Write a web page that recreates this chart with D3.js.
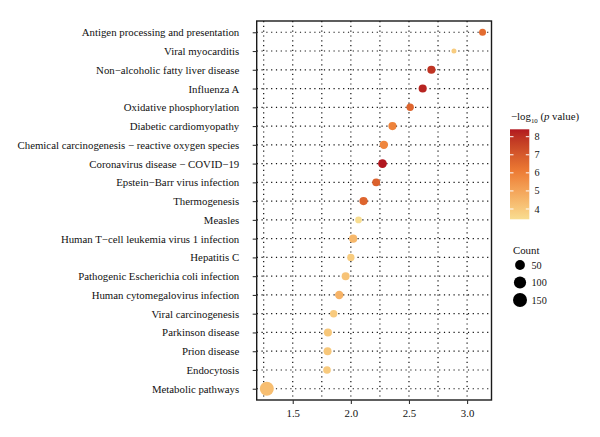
<!DOCTYPE html>
<html>
<head>
<meta charset="utf-8">
<script src="https://cdn.jsdelivr.net/npm/d3@7"></script>
<style>
  html, body { margin: 0; padding: 0; background: #fff; }
  svg { display: block; }
  text { font-family: "Liberation Serif", "DejaVu Serif", serif; fill: #111; }
</style>
</head>
<body>
<svg id="chart" width="600" height="437"></svg>
<script>
// ---------- data ----------
const pathways = [
  "Antigen processing and presentation",
  "Viral myocarditis",
  "Non\u2212alcoholic fatty liver disease",
  "Influenza A",
  "Oxidative phosphorylation",
  "Diabetic cardiomyopathy",
  "Chemical carcinogenesis \u2212 reactive oxygen species",
  "Coronavirus disease \u2212 COVID\u221219",
  "Epstein\u2212Barr virus infection",
  "Thermogenesis",
  "Measles",
  "Human T\u2212cell leukemia virus 1 infection",
  "Hepatitis C",
  "Pathogenic Escherichia coli infection",
  "Human cytomegalovirus infection",
  "Viral carcinogenesis",
  "Parkinson disease",
  "Prion disease",
  "Endocytosis",
  "Metabolic pathways"
];
const xValues = [3.133, 2.887, 2.693, 2.618, 2.510, 2.358, 2.284, 2.272, 2.218, 2.109,
                 2.066, 2.020, 2.000, 1.955, 1.900, 1.852, 1.803, 1.800, 1.795, 1.277];
const negLogP = [6.5, 3.9, 7.9, 8.2, 6.7, 5.9, 5.8, 8.41, 6.8, 6.7,
                 3.43, 4.5, 3.9, 4.15, 4.6, 3.95, 4.05, 4.05, 3.95, 4.3];
const counts  = [17, 10, 27, 27, 20, 27, 30, 35, 25, 28,
                 15, 27, 20, 25, 30, 20, 26, 25, 22, 150];
const xTicks = [1.5, 2.0, 2.5, 3.0];
const xGrid = [1.25, 1.5, 1.75, 2.0, 2.25, 2.5, 2.75, 3.0];
const colorTicks = [4, 5, 6, 7, 8];
const sizeBreaks = [50, 100, 150];

const data = pathways.map((p, i) => ({ name: p, x: xValues[i], p: negLogP[i], n: counts[i] }));

// ---------- layout ----------
const svg = d3.select("#chart");
const P = { left: 256.7, right: 491.5, top: 21, bottom: 400 };

const x = d3.scaleLinear().domain([1.19, 3.21]).range([P.left, P.right]);
const y = d3.scalePoint().domain(pathways).range([P.top, P.bottom]).padding(0.6);

const pExt = d3.extent(negLogP);
const color = d3.scaleLinear()
  .domain([pExt[0], (pExt[0] + pExt[1]) / 2 + 0.2, pExt[1]])
  .range(["#f8dd90", "#ec7a33", "#b2171f"])
  .interpolate(d3.interpolateLab);

const nExt = d3.extent(counts);
const sizeT = d3.scaleLinear().domain(nExt).range([0, 1]).clamp(true);
const rLin = d3.scaleLinear().domain([0, 1]).range([2.5, 7]);
const radius = n => rLin(Math.sqrt(sizeT(n)));

// ---------- grid ----------
const grid = svg.append("g");
grid.selectAll("line.v").data(xGrid).join("line")
  .attr("x1", d => x(d)).attr("x2", d => x(d))
  .attr("y1", P.top).attr("y2", P.bottom)
  .attr("stroke", "#111").attr("stroke-width", 1.2)
  .attr("stroke-dasharray", "1.2 3.6");
grid.selectAll("line.h").data(pathways).join("line")
  .attr("x1", P.left).attr("x2", P.right)
  .attr("y1", d => y(d)).attr("y2", d => y(d))
  .attr("stroke", "#111").attr("stroke-width", 1.2)
  .attr("stroke-dasharray", "1.2 3.6");

// ---------- points ----------
svg.append("g").selectAll("circle").data(data).join("circle")
  .attr("cx", d => x(d.x)).attr("cy", d => y(d.name))
  .attr("r", d => radius(d.n))
  .attr("fill", d => color(d.p));

// ---------- panel border ----------
svg.append("rect")
  .attr("x", P.left).attr("y", P.top)
  .attr("width", P.right - P.left).attr("height", P.bottom - P.top)
  .attr("fill", "none").attr("stroke", "#1a1a1a").attr("stroke-width", 1.4);

// ---------- axes ----------
const yAxis = svg.append("g").attr("transform", `translate(${P.left},0)`)
  .call(d3.axisLeft(y).tickSize(4).tickPadding(13.5));
yAxis.select(".domain").remove();
yAxis.selectAll("line").attr("stroke", "#333").attr("stroke-width", 1.1);
yAxis.selectAll("text").style("font-size", "10.8px")
  .style("font-family", '"Liberation Serif", serif').attr("fill", "#111");

const xAxis = svg.append("g").attr("transform", `translate(0,${P.bottom})`)
  .call(d3.axisBottom(x).tickValues(xTicks).tickFormat(d3.format(".1f")).tickSize(4).tickPadding(5));
xAxis.select(".domain").remove();
xAxis.selectAll("line").attr("stroke", "#333").attr("stroke-width", 1.1);
xAxis.selectAll("text").style("font-size", "10.8px")
  .style("font-family", '"Liberation Serif", serif').attr("fill", "#111");

// ---------- colour legend ----------
const cb = { x: 510, y: 129.3, w: 19.3, h: 90 };
const cbScale = d3.scaleLinear().domain(pExt).range([cb.y + cb.h, cb.y]);
const defs = svg.append("defs");
const grad = defs.append("linearGradient").attr("id", "cgrad")
  .attr("x1", 0).attr("y1", 1).attr("x2", 0).attr("y2", 0);
d3.range(0, 1.0001, 0.05).forEach(t => {
  const v = pExt[0] + t * (pExt[1] - pExt[0]);
  grad.append("stop").attr("offset", t).attr("stop-color", color(v));
});
const leg = svg.append("g");
const title = leg.append("text").attr("x", 511).attr("y", 120).style("font-size", "10.8px");
title.append("tspan").text("\u2212log");
title.append("tspan").attr("dy", 2.5).style("font-size", "6.8px").text("10");
title.append("tspan").attr("dy", -2.5).text(" (");
title.append("tspan").style("font-style", "italic").text("p");
title.append("tspan").text(" value)");

leg.append("rect").attr("x", cb.x).attr("y", cb.y).attr("width", cb.w).attr("height", cb.h)
  .attr("fill", "url(#cgrad)");
colorTicks.forEach(t => {
  const yy = cbScale(t);
  leg.append("line").attr("x1", cb.x).attr("x2", cb.x + 3.5).attr("y1", yy).attr("y2", yy)
    .attr("stroke", "#fff").attr("stroke-width", 1);
  leg.append("line").attr("x1", cb.x + cb.w - 3.5).attr("x2", cb.x + cb.w).attr("y1", yy).attr("y2", yy)
    .attr("stroke", "#fff").attr("stroke-width", 1);
  leg.append("text").attr("x", 534.5).attr("y", yy).attr("dy", "0.35em")
    .style("font-size", "10.2px").text(t);
});

// ---------- size legend ----------
const sl = svg.append("g");
sl.append("text").attr("x", 513).attr("y", 253.5).style("font-size", "10.8px").text("Count");
const sizeY = d3.scalePoint().domain(sizeBreaks).range([265, 300]);
sizeBreaks.forEach(b => {
  sl.append("circle").attr("cx", 520).attr("cy", sizeY(b)).attr("r", radius(b)).attr("fill", "#000");
  sl.append("text").attr("x", 531.5).attr("y", sizeY(b)).attr("dy", "0.35em")
    .style("font-size", "10.2px").text(b);
});
</script>
</body>
</html>
